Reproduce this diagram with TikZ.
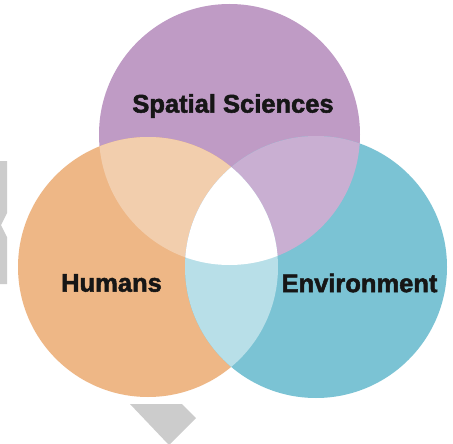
\documentclass[tikz,border=0pt]{standalone}
\usepackage{fontspec}
\newfontfamily\labfont{Liberation Sans}[BoldFeatures={FakeBold=2}]
\definecolor{cpurple}{HTML}{BF9BC5}
\definecolor{corange}{HTML}{EEB786}
\definecolor{cteal}{HTML}{7BC3D4}
\definecolor{cop}{HTML}{F2CEAD}
\definecolor{cpt}{HTML}{C9AFD2}
\definecolor{cot}{HTML}{B8DFE8}
\definecolor{cgray}{HTML}{CCCCCC}
\definecolor{ctext}{HTML}{161616}
\tikzset{
  vlabel/.style={font=\labfont\bfseries\fontsize{25.5}{30}\selectfont, text=ctext, inner sep=0pt},
  grayshape/.style={fill=cgray, draw=none},
}
\begin{document}
\begin{tikzpicture}[x=1pt,y=-1pt]
\useasboundingbox (0,0) rectangle (453,444);
\fill[white] (0,0) rectangle (453,444);
% background gray shapes
\fill[grayshape] (0,161) -- (7,161) -- (7,213) -- (1,225) -- (7,237) -- (7,284) -- (0,284) -- cycle;
\fill[grayshape] (130,404) -- (182,404) -- (196,418) -- (170,444) -- (168,444) -- cycle;
% circle centres
\coordinate (P) at (229.5,134.5);
\coordinate (O) at (148,267);
\coordinate (T) at (316,267);
\def\rP{130.5}\def\rO{130}\def\rT{131}
% circles
\fill[cpurple] (P) circle (\rP);
\fill[corange] (O) circle (\rO);
\fill[cteal] (T) circle (\rT);
% pairwise overlaps
\begin{scope}
  \clip (O) circle (\rO);
  \fill[cop] (P) circle (\rP);
\end{scope}
\begin{scope}
  \clip (P) circle (\rP);
  \fill[cpt] (T) circle (\rT);
\end{scope}
\begin{scope}
  \clip (O) circle (\rO);
  \fill[cot] (T) circle (\rT);
\end{scope}
% triple overlap
\begin{scope}
  \clip (O) circle (\rO);
  \clip (T) circle (\rT);
  \fill[white] (P) circle (\rP);
\end{scope}
% labels
\node[vlabel] (ss) at (233,106) {Spatial Sciences};
\node[vlabel] (hu) at (111.5,283) {Humans};
\node[vlabel] (en) at (359.5,283) {Environment};
\end{tikzpicture}
\end{document}
